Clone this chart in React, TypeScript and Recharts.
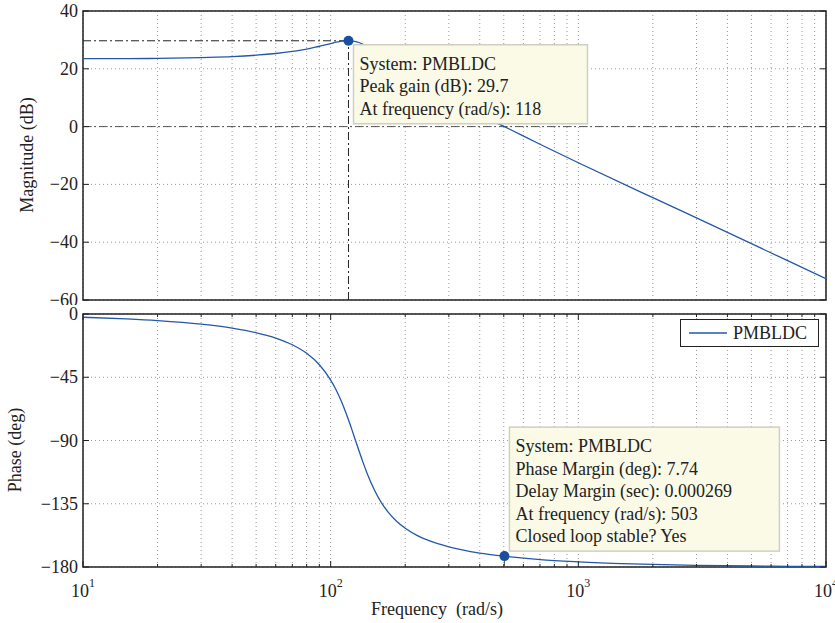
import React from "react";
import {
  LineChart,
  Line,
  XAxis,
  YAxis,
  CartesianGrid,
  ReferenceLine,
  ReferenceDot,
  ReferenceArea,
  Legend,
} from "recharts";

// Bode data
const freq = [10, 15, 20, 30, 40, 50, 60, 70, 80, 90, 100, 105, 110, 115, 118, 122, 125, 130, 135, 140, 150, 160, 170, 185, 200, 225, 250, 300, 400, 503, 700, 1000, 2000, 3000, 5000, 7000, 10000];
const magnitude = [23.5, 23.5, 23.6, 23.9, 24.2, 24.7, 25.3, 26.0, 26.8, 27.8, 28.7, 29.2, 29.5, 29.7, 29.7, 29.6, 29.5, 29.1, 28.5, 27.8, 26.2, 24.5, 22.9, 20.7, 18.7, 15.9, 13.6, 9.8, 4.1, 0.0, -6.1, -12.5, -24.6, -31.6, -40.5, -46.4, -52.6];
const phase = [-2.3, -3.5, -4.7, -7.2, -10.0, -13.3, -17.1, -21.9, -28.0, -36.1, -47.0, -53.7, -61.4, -69.9, -75.3, -82.6, -88.2, -97.1, -105.4, -112.9, -125.0, -134.0, -140.6, -147.6, -152.4, -157.8, -161.3, -165.7, -170.1, -172.3, -174.7, -176.3, -178.2, -178.8, -179.3, -179.5, -179.6];

const xTicks = [10, 20, 30, 40, 50, 60, 70, 80, 90, 100, 200, 300, 400, 500, 600, 700, 800, 900, 1000, 2000, 3000, 4000, 5000, 6000, 7000, 8000, 9000, 10000];
const magTicks = [-60, -40, -20, 0, 20, 40];
const phaseTicks = [-180, -135, -90, -45, 0];

const peak = { freq: 118, gain: 29.7 };
const margin = { freq: 503, phase: -172.26 };

const magTip = ["System: PMBLDC", "Peak gain (dB): 29.7", "At frequency (rad/s): 118"];
const phaseTip = [
  "System: PMBLDC",
  "Phase Margin (deg): 7.74",
  "Delay Margin (sec): 0.000269",
  "At frequency (rad/s): 503",
  "Closed loop stable? Yes",
];

const data = freq.map((f, i) => ({ f, mag: magnitude[i], ph: phase[i] }));

const FONT = "'Liberation Serif', 'DejaVu Serif', serif";
const BLUE = "#2457a8";
const PLOT_W = 743;
const FS = 18;

const minus = (v: number) => String(v).replace("-", "\u2212");

const makeXTick = (plotH: number, labels: boolean) => (props: any) => {
  const { x, y, payload } = props;
  const v = payload.value;
  const exp = Math.round(Math.log10(v));
  const major = Math.abs(Math.pow(10, exp) - v) < 1e-6;
  const len = major ? 6 : 3;
  return (
    <g>
      <line x1={x} x2={x} y1={y} y2={y - len} stroke="#222" />
      <line x1={x} x2={x} y1={y - plotH} y2={y - plotH + len} stroke="#222" />
      {labels && major && (
        <text x={x} y={y + 30} textAnchor="middle" fontFamily={FONT} fontSize={FS} fill="#222">
          10
          <tspan dy={-10} fontSize={12}>
            {exp}
          </tspan>
        </text>
      )}
    </g>
  );
};

const YTick = (props: any) => {
  const { x, y, payload } = props;
  return (
    <g>
      <line x1={x} x2={x + 6} y1={y} y2={y} stroke="#222" />
      <line x1={x + PLOT_W} x2={x + PLOT_W - 6} y1={y} y2={y} stroke="#222" />
      <text x={x - 5} y={y + 6} textAnchor="end" fontFamily={FONT} fontSize={FS} fill="#222">
        {minus(payload.value)}
      </text>
    </g>
  );
};

const TipBox = ({ x, y, w, lines }: { x: number; y: number; w: number; lines: string[] }) => (
  <g>
    <rect
      x={x}
      y={y}
      width={w}
      height={25 + (lines.length - 1) * 22.5 + 9}
      fill="#fafae6"
      stroke="#cfcfc4"
      strokeWidth={1.5}
    />
    {lines.map((t, i) => (
      <text key={i} x={x + 6} y={y + 25 + i * 22.5} fontFamily={FONT} fontSize={FS} fill="#222">
        {t}
      </text>
    ))}
  </g>
);

const PeakDot = (props: any) => {
  const { cx, cy } = props;
  return (
    <g>
      <TipBox x={cx + 5} y={cy + 4} w={234} lines={magTip} />
      <circle cx={cx} cy={cy} r={5} fill="#1a4fa0" />
    </g>
  );
};

const MarginDot = (props: any) => {
  const { cx, cy } = props;
  return (
    <g>
      <TipBox x={cx + 5} y={cy - 129} w={270} lines={phaseTip} />
      <circle cx={cx} cy={cy} r={5} fill="#1a4fa0" />
    </g>
  );
};

const LegendBox = () => (
  <div
    style={{
      boxSizing: "border-box",
      width: 139,
      height: 28,
      border: "1.5px solid #222",
      background: "#fff",
      display: "flex",
      alignItems: "center",
      fontFamily: FONT,
      fontSize: FS,
      color: "#222",
    }}
  >
    <svg width={50} height={10}>
      <line x1={8} x2={46} y1={5} y2={5} stroke={BLUE} strokeWidth={1.5} />
    </svg>
    <span style={{ marginLeft: 2 }}>PMBLDC</span>
  </div>
);

const rotLabel = (text: string, cx: number, cy: number) => () => (
  <text x={cx} y={cy} transform={`rotate(-90 ${cx} ${cy})`} textAnchor="middle" fontFamily={FONT} fontSize={FS} fill="#222">
    {text}
  </text>
);

const xLabel = (text: string, cx: number, cy: number) => () => (
  <text x={cx} y={cy} textAnchor="middle" fontFamily={FONT} fontSize={FS} fill="#222" style={{ whiteSpace: "pre" }}>
    {text}
  </text>
);

const grid = <CartesianGrid stroke="#9a9a9a" strokeDasharray="1 3" />;

export default function App() {
  return (
    <div style={{ position: "absolute", left: 0, top: 0, width: 835, height: 623, background: "#fff" }}>
      <div style={{ position: "absolute", left: 0, top: 0 }}>
        <LineChart width={835} height={305} data={data} margin={{ top: 11, right: 9, left: 0, bottom: 5 }}>
          {grid}
          <XAxis
            dataKey="f"
            type="number"
            scale="log"
            domain={[10, 10000]}
            ticks={xTicks}
            interval={0}
            axisLine={false}
            tickLine={false}
            tickSize={0}
            tickMargin={0}
            height={0}
            tick={makeXTick(289, false)}
            allowDataOverflow
          />
          <YAxis
            type="number"
            domain={[-60, 40]}
            ticks={magTicks}
            interval={0}
            width={83}
            axisLine={false}
            tickLine={false}
            tickSize={0}
            tickMargin={0}
            tick={YTick}
            label={{ content: rotLabel("Magnitude (dB)", 33, 155) }}
            allowDataOverflow
          />
          <ReferenceLine y={0} stroke="#555" strokeDasharray="8 3 2 3" />
          <ReferenceLine
            segment={[{ x: 10, y: peak.gain }, { x: peak.freq, y: peak.gain }]}
            stroke="#222"
            strokeDasharray="8 3 2 3"
          />
          <ReferenceLine
            segment={[{ x: peak.freq, y: -60 }, { x: peak.freq, y: peak.gain }]}
            stroke="#222"
            strokeDasharray="8 3 2 3"
          />
          <ReferenceArea x1={10} x2={10000} y1={-60} y2={40} fill="none" stroke="#222" strokeWidth={1.5} />
          <Line dataKey="mag" stroke={BLUE} strokeWidth={1.3} dot={false} type="monotone" isAnimationActive={false} />
          <ReferenceDot x={peak.freq} y={peak.gain} r={5} shape={PeakDot} />
        </LineChart>
      </div>
      <div style={{ position: "absolute", left: 0, top: 305 }}>
        <LineChart width={835} height={318} data={data} margin={{ top: 9, right: 9, left: 0, bottom: 6 }}>
          {grid}
          <XAxis
            dataKey="f"
            type="number"
            scale="log"
            domain={[10, 10000]}
            ticks={xTicks}
            interval={0}
            axisLine={false}
            tickLine={false}
            tickSize={0}
            tickMargin={0}
            height={50}
            tick={makeXTick(253, true)}
            label={{ content: xLabel("Frequency  (rad/s)", 437, 310) }}
            allowDataOverflow
          />
          <YAxis
            type="number"
            domain={[-180, 0]}
            ticks={phaseTicks}
            interval={0}
            width={83}
            axisLine={false}
            tickLine={false}
            tickSize={0}
            tickMargin={0}
            tick={YTick}
            label={{ content: rotLabel("Phase (deg)", 21, 145) }}
            allowDataOverflow
          />
          <ReferenceLine y={-180} stroke="#555" strokeDasharray="8 3 2 3" />
          <ReferenceLine
            segment={[{ x: margin.freq, y: -180 }, { x: margin.freq, y: margin.phase }]}
            stroke="#555"
          />
          <ReferenceArea x1={10} x2={10000} y1={-180} y2={0} fill="none" stroke="#222" strokeWidth={1.5} />
          <Line dataKey="ph" name="PMBLDC" stroke={BLUE} strokeWidth={1.3} dot={false} type="monotone" isAnimationActive={false} />
          <ReferenceDot x={margin.freq} y={margin.phase} r={5} shape={MarginDot} />
          <Legend
            content={LegendBox}
            layout="horizontal"
            verticalAlign="middle"
            align="center"
            wrapperStyle={{ position: "absolute", left: 680, top: 14, width: 140 }}
          />
        </LineChart>
      </div>
    </div>
  );
}
